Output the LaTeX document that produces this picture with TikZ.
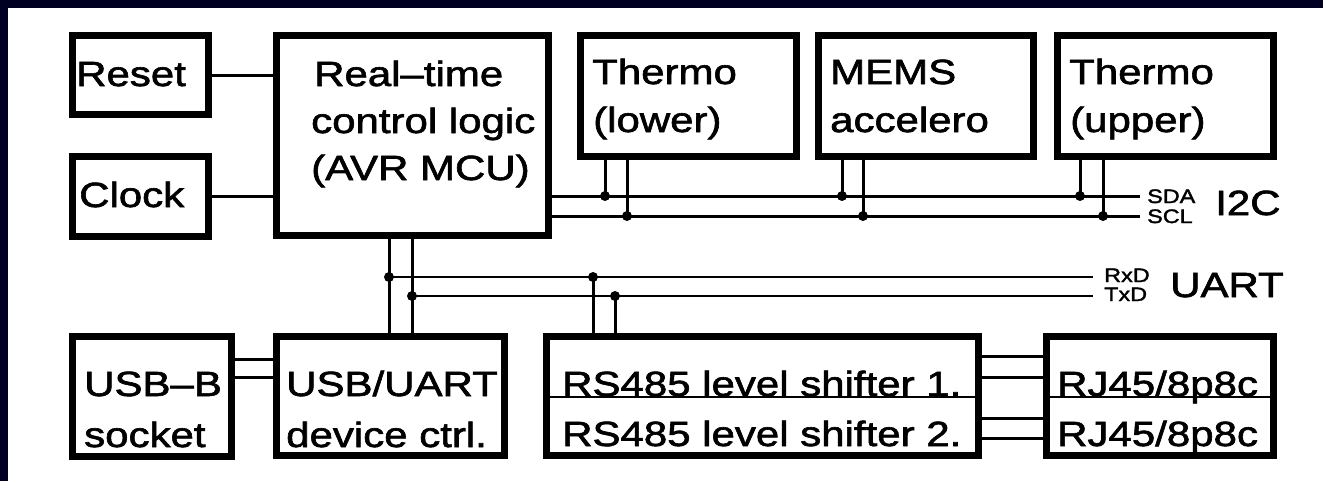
\documentclass[tikz,border=0pt]{standalone}
\usepackage{fontspec}
\setmainfont{Liberation Sans}[FakeStretch=1.2,FakeBold=1.8]
\definecolor{navy}{RGB}{0,0,34}
\tikzset{
  blk/.style={draw, line width=7pt, inner sep=0pt, fill=white},
  lbl/.style={anchor=base west, inner sep=0pt, font=\fontsize{35}{42}\selectfont},
  sml/.style={anchor=base west, inner sep=0pt, font=\fontsize{19.5}{19.5}\selectfont},
  wire/.style={line width=3pt},
  twire/.style={line width=1.8pt},
  sep/.style={line width=2pt},
  jdot/.style={circle, fill, inner sep=0pt, minimum size=10pt},
}
\begin{document}
\begin{tikzpicture}[x=1pt,y=-1pt]
\useasboundingbox (0,0) rectangle (1323,480);
\fill[navy] (-20,-20) rectangle (1360,520);
\fill[white] (8,8) rectangle (1360,520);

% blocks (outer extents measured, border centred)
\node[blk, minimum width=136pt, minimum height=79pt]  (reset) at (140.5,75) {};
\node[blk, minimum width=136pt, minimum height=80pt]  (clock) at (140.5,196.5) {};
\node[blk, minimum width=272pt, minimum height=200pt] (mcu)   at (412.5,135.5) {};
\node[blk, minimum width=216pt, minimum height=121pt] (thl)   at (688.5,96) {};
\node[blk, minimum width=215pt, minimum height=121pt] (mems)  at (926,96) {};
\node[blk, minimum width=216pt, minimum height=121pt] (thu)   at (1165.5,96) {};
\node[blk, minimum width=159pt, minimum height=120pt] (usbb)  at (152,396.5) {};
\node[blk, minimum width=228pt, minimum height=119pt] (usbu)  at (390.5,396) {};
\node[blk, minimum width=432pt, minimum height=119pt] (rs)    at (762.5,396) {};
\node[blk, minimum width=227pt, minimum height=119pt] (rj)    at (1160,396) {};

% row separators in the two double blocks
\coordinate (sepy) at (0,397);
\draw[sep] (rs.west |- sepy) -- (rs.east |- sepy);
\draw[sep] (rj.west |- sepy) -- (rj.east |- sepy);

% texts
\node[lbl] (tReset) at (76,86) {Reset};
\node[lbl] (tClock) at (79,207) {Clock};
\node[lbl] (tM1) at (314,86) {Real–time};
\node[lbl] (tM2) at (311,133) {control logic};
\node[lbl] (tM3) at (311,180) {(AVR MCU)};
\node[lbl] (tTL1) at (592,84) {Thermo};
\node[lbl] (tTL2) at (593,132) {(lower)};
\node[lbl] (tMe1) at (830,84) {MEMS};
\node[lbl] (tMe2) at (830,132) {accelero};
\node[lbl] (tTU1) at (1069,84) {Thermo};
\node[lbl] (tTU2) at (1070,132) {(upper)};
\node[lbl] (tU1) at (84,396) {USB–B};
\node[lbl] (tU2) at (84,447) {socket};
\node[lbl] (tV1) at (286,396) {USB/UART};
\node[lbl] (tV2) at (286,447) {device ctrl.};
\node[lbl] (tR1) at (562,396) {RS485 level shifter 1.};
\node[lbl] (tR2) at (562,446) {RS485 level shifter 2.};
\node[lbl] (tJ1) at (1057,396) {RJ45/8p8c};
\node[lbl] (tJ2) at (1057,446) {RJ45/8p8c};

% Reset / Clock to MCU
\draw[wire] (reset.east) -- (reset.east -| mcu.west);
\draw[wire] (clock.east) -- (clock.east -| mcu.west);

% I2C bus
\coordinate (sdaE) at (1140,196);
\coordinate (sclE) at (1140,216);
\draw[wire] (mcu.east |- sdaE) -- (sdaE);
\draw[wire] (mcu.east |- sclE) -- (sclE);
\coordinate (a1) at (605,196);  \coordinate (a2) at (627,216);
\coordinate (b1) at (842,196);  \coordinate (b2) at (863,216);
\coordinate (c1) at (1080,196); \coordinate (c2) at (1103,216);
\draw[wire] (thl.south -| a1) -- (a1);
\draw[wire] (thl.south -| a2) -- (a2);
\draw[wire] (mems.south -| b1) -- (b1);
\draw[wire] (mems.south -| b2) -- (b2);
\draw[wire] (thu.south -| c1) -- (c1);
\draw[wire] (thu.south -| c2) -- (c2);
\foreach \p in {a1,a2,b1,b2,c1,c2} \node[jdot] (d\p) at (\p) {};
\node[sml] (tSDA) at (1147,203) {SDA};
\node[sml] (tSCL) at (1147,223) {SCL};
\node[lbl] (tI2C) at (1215,215) {I2C};

% UART bus
\coordinate (u1) at (389,277); \coordinate (u2) at (412,296);
\coordinate (r1) at (593,277); \coordinate (r2) at (615,296);
\coordinate (rxE) at (1093,277); \coordinate (txE) at (1093,296);
\draw[wire] (mcu.south -| u1) -- (usbu.north -| u1);
\draw[wire] (mcu.south -| u2) -- (usbu.north -| u2);
\draw[twire] (u1) -- (rxE);
\draw[twire] (u2) -- (txE);
\draw[wire] (r1) -- (rs.north -| r1);
\draw[wire] (r2) -- (rs.north -| r2);
\foreach \p in {u1,u2,r1,r2} \node[jdot] (d\p) at (\p) {};
\node[sml] (tRxD) at (1104,282) {RxD};
\node[sml] (tTxD) at (1104,301) {TxD};
\node[lbl] (tUART) at (1170,297) {UART};

% USB-B to USB/UART
\coordinate (ua) at (0,359); \coordinate (ub) at (0,377);
\draw[wire] (usbb.east |- ua) -- (usbu.west |- ua);
\draw[wire] (usbb.east |- ub) -- (usbu.west |- ub);

% RS485 to RJ45
\foreach \y/\n in {356/ra,377/rb,418/rc,438/rd} {
  \coordinate (\n) at (0,\y);
  \draw[wire] (rs.east |- \n) -- (rj.west |- \n);
}
\end{tikzpicture}
\end{document}
